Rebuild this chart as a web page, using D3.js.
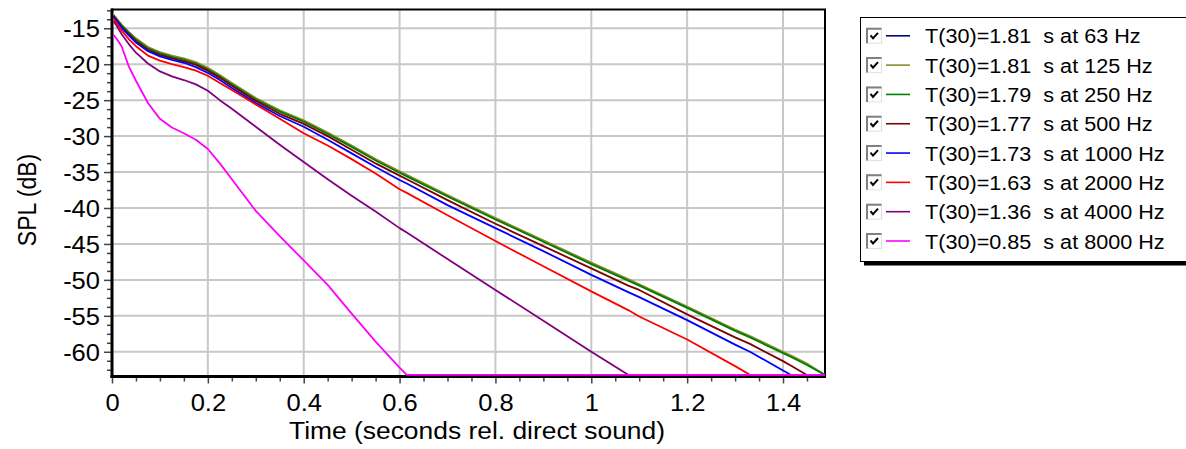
<!DOCTYPE html>
<html><head><meta charset="utf-8">
<script src="https://cdn.jsdelivr.net/npm/d3@7"></script>
<style>
body{margin:0;background:#fff;}
svg{display:block;}
text{font-family:"Liberation Sans",Arial,sans-serif;fill:#000;}
</style>
</head><body>
<svg id="c" width="1186" height="449"></svg>
<script>
// ---- data ----
const times = [0.003,0.01,0.02,0.035,0.05,0.075,0.1,0.125,0.15,0.175,0.2,0.225,0.25,0.3,0.35,0.4,0.45,0.5,0.55,0.6,0.615,0.7,0.8,0.9,1.0,1.077,1.1,1.2,1.3,1.331,1.4,1.416,1.449,1.487];
const bands = ["63","125","250","500","1000","2000","4000","8000"];
const t30 = ["1.81","1.81","1.79","1.77","1.73","1.63","1.36","0.85"];
const colors = ["#000080","#8c8c28","#008000","#800000","#0000ff","#ff0000","#800080","#ff00ff"];
const spl63   = [-13.2,-13.8,-14.6,-15.6,-16.5,-17.7,-18.4,-18.9,-19.3,-19.8,-20.6,-21.6,-22.7,-24.8,-26.5,-27.9,-29.6,-31.4,-33.3,-35.0,-35.5,-38.3,-41.5,-44.6,-47.7,-50.0,-50.7,-53.8,-57.0,-57.9,-60.1,-60.6,-61.7,-63.2];
const spl125  = [-13.1,-13.7,-14.5,-15.5,-16.4,-17.6,-18.3,-18.8,-19.2,-19.7,-20.5,-21.5,-22.6,-24.7,-26.4,-27.8,-29.5,-31.3,-33.2,-34.9,-35.4,-38.2,-41.4,-44.5,-47.6,-49.9,-50.6,-53.7,-56.9,-57.8,-60.0,-60.5,-61.6,-63.2];
const spl250  = [-13.2,-13.8,-14.6,-15.6,-16.6,-17.8,-18.5,-19.0,-19.4,-19.9,-20.7,-21.7,-22.8,-24.9,-26.6,-28.0,-29.7,-31.5,-33.4,-35.1,-35.6,-38.4,-41.6,-44.7,-47.8,-50.1,-50.8,-53.9,-57.1,-58.0,-60.2,-60.7,-61.8,-63.2];
const spl500  = [-13.3,-13.9,-14.8,-15.8,-16.8,-18.0,-18.7,-19.2,-19.6,-20.1,-20.9,-21.9,-23.0,-25.1,-26.9,-28.3,-30.0,-31.9,-33.8,-35.5,-36.0,-38.9,-42.2,-45.3,-48.4,-50.8,-51.4,-54.8,-58.0,-58.9,-61.3,-61.9,-63.2,-63.2];
const spl1000 = [-13.4,-14.0,-14.9,-16.0,-17.0,-18.2,-18.9,-19.4,-19.8,-20.4,-21.2,-22.2,-23.3,-25.4,-27.2,-28.7,-30.5,-32.4,-34.3,-36.1,-36.6,-39.6,-42.8,-46.0,-49.3,-51.7,-52.4,-55.6,-59.0,-60.0,-62.6,-63.2,-63.2,-63.2];
const spl2000 = [-13.6,-14.3,-15.3,-16.5,-17.5,-18.8,-19.5,-20.0,-20.4,-20.9,-21.6,-22.6,-23.6,-25.6,-27.6,-29.6,-31.3,-33.2,-35.2,-37.4,-37.9,-41.0,-44.6,-48.1,-51.6,-54.2,-55.1,-58.3,-62.0,-63.2,-63.2,-63.2,-63.2,-63.2];
const spl4000 = [-14.0,-14.7,-15.8,-17.2,-18.4,-19.9,-21.0,-21.7,-22.2,-22.8,-23.7,-25.0,-26.2,-28.7,-31.2,-33.6,-36.0,-38.3,-40.5,-42.8,-43.4,-47.1,-51.4,-55.7,-60.0,-63.2,-63.2,-63.2,-63.2,-63.2,-63.2,-63.2,-63.2,-63.2];
const spl8000 = [-15.9,-16.5,-17.5,-20.3,-22.3,-25.4,-27.6,-28.8,-29.6,-30.5,-31.8,-33.8,-36.0,-40.4,-43.9,-47.3,-50.7,-54.7,-58.6,-62.2,-63.2,-63.2,-63.2,-63.2,-63.2,-63.2,-63.2,-63.2,-63.2,-63.2,-63.2,-63.2,-63.2,-63.2];
const series = [spl63,spl125,spl250,spl500,spl1000,spl2000,spl4000,spl8000];
const xMajor = [0,0.2,0.4,0.6,0.8,1,1.2,1.4];
const xLabels = ["0","0.2","0.4","0.6","0.8","1","1.2","1.4"];
const yMajor = [-15,-20,-25,-30,-35,-40,-45,-50,-55,-60];
const xMinorStep = 0.05, yMinorStep = 1.25;
const xTitle = "Time (seconds rel. direct sound)";
const yTitle = "SPL (dB)";

// ---- layout ----
const L = 112, R = 825, T = 9.5, B = 376;
const svg = d3.select("#c");
const x = d3.scaleLinear().domain([0, 1.4876]).range([L, R]);
const y = d3.scaleLinear().domain([-63.37, -12.39]).range([B, T]);

// grid
svg.append("g").selectAll("line").data(xMajor.filter(d => d > 0)).join("line")
  .attr("x1", d => x(d)).attr("x2", d => x(d)).attr("y1", T).attr("y2", B)
  .attr("stroke", "#c8c8c8").attr("stroke-width", 2);
svg.append("g").selectAll("line").data(yMajor).join("line")
  .attr("y1", d => y(d)).attr("y2", d => y(d)).attr("x1", L).attr("x2", R)
  .attr("stroke", "#c8c8c8").attr("stroke-width", 2);

// ticks
const xMinor = d3.range(0, 1.4876, xMinorStep).filter(v => Math.abs(v/0.2 - Math.round(v/0.2)) > 1e-6);
const yMinor = d3.range(-62.5, -12.39, yMinorStep).filter(v => Math.abs(v/5 - Math.round(v/5)) > 1e-6);

const gxMin = svg.append("g").attr("transform", `translate(0,${B+0.5})`)
  .call(d3.axisBottom(x).tickValues(xMinor).tickSize(5).tickFormat(""));
const gyMin = svg.append("g").attr("transform", `translate(${L},0)`)
  .call(d3.axisLeft(y).tickValues(yMinor).tickSize(5).tickFormat(""));
const gx = svg.append("g").attr("transform", `translate(0,${B+0.5})`)
  .call(d3.axisBottom(x).tickValues(xMajor).tickSize(7).tickFormat((d,i) => xLabels[i]));
const gy = svg.append("g").attr("transform", `translate(${L},0)`)
  .call(d3.axisLeft(y).tickValues(yMajor).tickSize(8).tickFormat(d => String(d)));
[gxMin, gyMin, gx, gy].forEach(g => {
  g.select(".domain").remove();
  g.selectAll(".tick line").attr("stroke", "#444").attr("stroke-width", 1.5);
});
const TS = 1.11;
gx.selectAll(".tick text").attr("font-size", 23).attr("y", 18).attr("dy", "0.71em")
  .attr("transform", `scale(${TS},1)`).style("font-family", '"Liberation Sans",Arial,sans-serif');
gy.selectAll(".tick text").attr("font-size", 23).attr("x", -12 / TS).attr("dy", "0.36em")
  .attr("transform", `scale(${TS},1)`).style("font-family", '"Liberation Sans",Arial,sans-serif');

// frame
svg.append("line").attr("x1", L-1).attr("x2", R+1).attr("y1", T).attr("y2", T).attr("stroke", "#000").attr("stroke-width", 2);
svg.append("line").attr("x1", R).attr("x2", R).attr("y1", T).attr("y2", B+1).attr("stroke", "#000").attr("stroke-width", 2);
svg.append("line").attr("x1", L).attr("x2", L).attr("y1", T-1).attr("y2", B+2).attr("stroke", "#000").attr("stroke-width", 3);
svg.append("line").attr("x1", L-1.5).attr("x2", R+1).attr("y1", B+0.5).attr("y2", B+0.5).attr("stroke", "#000").attr("stroke-width", 3);

// curves
svg.append("clipPath").attr("id", "pc").append("rect")
  .attr("x", L+1).attr("y", T).attr("width", R-L-1).attr("height", B-T);
const line = d3.line().x((d,i) => x(times[i])).y(d => y(d)).curve(d3.curveLinear);
svg.append("g").attr("clip-path", "url(#pc)").selectAll("path").data(series).join("path")
  .attr("d", d => line(d)).attr("fill", "none")
  .attr("stroke", (d,i) => colors[i]).attr("stroke-width", 1.8).attr("stroke-linejoin", "round");

// axis titles
svg.append("text").attr("text-anchor", "middle").attr("font-size", 24)
  .attr("transform", `translate(477,439) scale(1.1,1)`).text(xTitle);
svg.append("text").attr("text-anchor", "middle").attr("font-size", 23)
  .attr("transform", `translate(35.5,200) scale(1.15,1) rotate(-90)`).text(yTitle);

// legend
const lg = svg.append("g");
lg.append("rect").attr("x", 864).attr("y", 21.5).attr("width", 340).attr("height", 244).attr("fill", "#000");
lg.append("rect").attr("x", 860.5).attr("y", 17.5).attr("width", 340).attr("height", 244)
  .attr("fill", "#fff").attr("stroke", "#000").attr("stroke-width", 1);
const rowY = d3.scaleLinear().domain([0, 7]).range([35.8, 241]);
const rows = lg.selectAll("g.row").data(bands).join("g").attr("class", "row")
  .attr("transform", (d,i) => `translate(0,${rowY(i)})`);
rows.append("rect").attr("x", 866.5).attr("y", -7.5).attr("width", 15).attr("height", 15)
  .attr("fill", "#fff").attr("stroke", "#e0e0e0").attr("stroke-width", 1);
rows.append("path").attr("d", "M867,7.5 V-7 H881.5").attr("fill", "none").attr("stroke", "#808080").attr("stroke-width", 2);
rows.append("path").attr("d", "M870.5,-0.5 L873,2.5 L878,-3").attr("fill", "none").attr("stroke", "#000").attr("stroke-width", 2);
rows.append("line").attr("x1", 886).attr("x2", 910).attr("y1", 0).attr("y2", 0)
  .attr("stroke", (d,i) => colors[i]).attr("stroke-width", 1.6);
rows.append("text").attr("font-size", 21).style("white-space", "pre")
  .attr("transform", `translate(925,7.5) scale(1.03,1)`)
  .text((d,i) => `T(30)=${t30[i]}  s at ${d} Hz`);
</script>
</body></html>
